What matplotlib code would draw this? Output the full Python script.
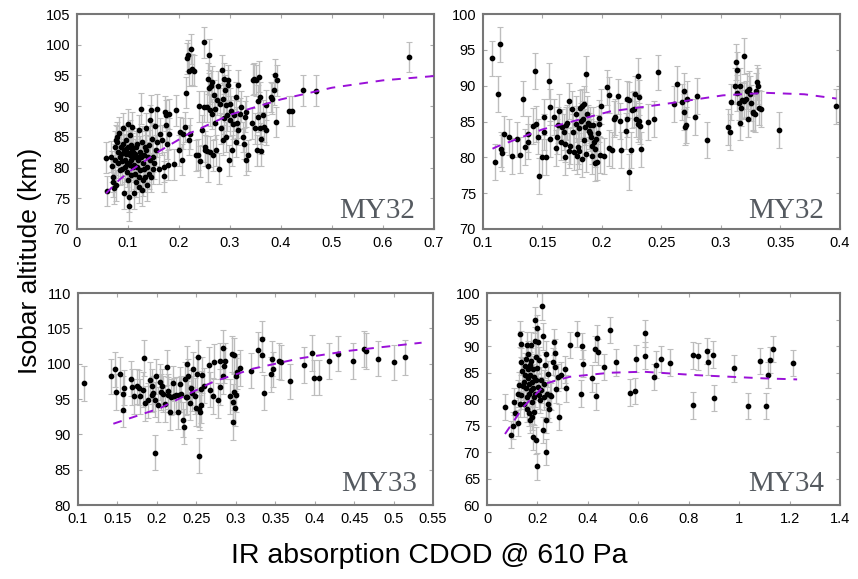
import matplotlib
matplotlib.use("Agg")
import matplotlib.pyplot as plt
from matplotlib.ticker import FuncFormatter, MultipleLocator

plt.rcParams['font.family'] = ['Liberation Sans', 'DejaVu Sans']

# ---------------- Panel 1 (MY32, left) ----------------
x1 = [0.0576,0.0595,0.066,0.069,0.0707,0.071,0.0726,0.0739,0.0752,0.077,0.0785,0.079,0.080,0.0824,0.0837,0.085,0.087,0.089,0.090,0.0916,
      0.092,0.0935,0.0955,0.0968,0.098,0.0994,0.100,0.1007,0.102,0.102,0.1034,0.1047,0.1053,0.1066,0.108,0.1086,0.1099,0.111,0.1125,0.1138,
      0.115,0.1164,0.1178,0.1197,0.121,0.1217,0.123,0.1243,0.1263,0.1276,0.128,0.1295,0.131,0.133,0.134,0.136,0.137,0.139,0.1407,0.1426,
      0.144,0.1459,0.148,0.149,0.150,0.152,0.153,0.154,0.156,0.157,0.161,0.1636,0.166,0.170,0.171,0.173,0.174,0.1753,0.177,0.1786,0.180,0.181,
      0.076,0.081,0.0857,0.0883,0.091,0.094,0.0962,0.0988,0.1014,0.104,0.106,0.109,0.112,0.1145,0.117,0.119,0.1223,0.1256,0.129,0.132,0.1348,0.138,0.141,0.1446,
      0.190,0.195,0.1995,0.2015,0.2054,0.208,0.211,0.213,0.2165,0.218,0.219,0.220,0.2224,0.2237,0.225,0.230,0.233,0.238,0.2394,0.2407,
      0.246,0.2486,0.2492,0.2505,0.252,0.254,0.255,0.2564,0.257,0.2584,0.259,0.260,0.2617,0.263,0.264,0.2656,0.267,0.269,0.270,0.2715,
      0.2735,0.2748,0.2767,0.279,0.2813,0.2833,0.2846,0.286,0.2872,0.288,0.289,0.2905,0.292,0.293,0.2944,0.2957,0.297,0.2983,0.2996,0.301,
      0.302,0.304,0.306,0.3088,0.3114,0.3127,0.314,0.3153,0.3166,0.320,0.3225,0.326,0.328,0.3297,0.331,0.3323,0.336,0.343,0.3454,0.3467,
      0.349,0.352,0.3526,0.354,0.3552,0.3565,0.358,0.359,0.3605,0.3618,0.365,0.3677,0.370,0.3716,0.3814,0.383,0.386,0.3886,0.391,0.3925,
      0.416,0.4213,0.4435,0.468,0.651]
y1 = [81.6,76.2,81.8,80.2,78.5,77.7,76.6,83.4,81.3,77.1,84.2,85.0,82.6,85.7,81.7,79.6,83.4,81.1,86.4,82.8,
      75.8,80.1,82.2,84.5,80.7,83.4,87.1,77.9,75.2,73.75,82.0,85.3,78.75,81.2,83.1,86.6,80.1,75.8,81.7,79.0,
      83.4,77.7,83.9,81.2,76.8,86.1,82.6,79.6,89.6,76.3,84.2,80.7,82.0,83.4,78.5,86.4,80.1,81.7,79.0,81.2,
      87.7,89.3,84.7,79.8,81.7,80.7,86.8,82.8,84.2,89.5,79.8,85.5,84.5,78.6,80.1,89.1,86.9,88.5,83.9,80.4,88.7,85.5,
      84.5,80.8,82.2,79.8,83.9,81.3,83.0,79.3,82.3,80.4,83.6,82.6,80.4,82.2,80.1,81.7,78.5,81.7,77.9,79.8,82.8,77.1,83.6,78.5,
      80.5,89.3,82.8,85.8,81.3,85.5,86.6,92.2,97.8,98.3,95.7,84.5,85.5,99.3,96.0,95.8,82.0,82.1,90.0,81.0,
      86.1,89.9,100.4,82.8,83.4,89.9,82.7,94.5,80.2,92.9,98.4,89.3,82.6,93.2,94.0,88.7,82.0,91.8,89.6,87.2,
      82.8,91.0,93.2,79.8,90.4,86.4,95.9,84.5,91.2,94.5,88.0,92.6,90.2,85.0,88.5,94.2,93.4,81.2,87.7,90.4,
      89.2,82.8,87.1,88.5,84.2,91.5,87.3,93.4,86.1,88.8,89.9,85.0,83.9,88.3,81.3,89.1,82.0,87.2,94.3,94.5,
      86.4,94.2,82.8,90.9,88.3,94.8,91.5,86.4,84.7,82.7,88.5,86.6,90.2,86.1,91.5,91.2,92.7,95.1,87.4,94.2,
      89.2,89.2,92.6,92.5,98.0]
err1 = 2.5
fit1_x = [0.057, 0.083, 0.107, 0.163, 0.219, 0.3, 0.4, 0.5, 0.6, 0.7]
fit1_y = [75.8, 78.0, 79.6, 82.75, 85.5, 88.6, 91.1, 93.0, 94.2, 94.9]

# ---------------- Panel 2 (MY32, right) ----------------
x2 = [0.1078,0.110,0.1123,0.114,0.1151,0.1162,0.1179,0.1218,0.1246,0.1285,0.1308,0.1336,0.135,0.1375,0.138,0.142,0.1434,0.1448,0.146,0.147,
      0.1493,0.151,0.1515,0.1526,0.1554,0.156,0.1565,0.1599,0.161,0.1621,0.163,0.1638,0.1655,0.1666,0.1677,0.1686,0.1691,0.17,0.171,0.1719,
      0.1725,0.1733,0.1745,0.1756,0.1767,0.1778,0.1784,0.179,0.1798,0.1803,0.181,0.1817,0.1823,0.1828,0.1834,0.184,0.1845,0.1851,0.1859,0.1865,
      0.1868,0.1873,0.1882,0.189,0.1896,0.1901,0.1907,0.1912,0.1918,0.1924,0.1929,0.1938,0.1943,0.1949,0.1957,0.1966,0.1971,0.1977,0.1985,0.1996,
      0.2019,0.2041,0.2061,0.2063,0.2083,0.2103,0.2108,0.2131,0.2153,0.2162,0.2203,0.2209,0.2212,0.2229,0.2231,0.2248,0.2254,0.2268,0.2276,0.2287,
      0.2299,0.2301,0.231,0.2315,0.2318,0.2329,0.2385,0.2439,0.2469,0.2606,0.2629,0.2671,0.269,0.269,0.2696,0.2707,0.2713,0.278,0.2802,0.2881,
      0.3063,0.308,0.3085,0.3116,0.3124,0.3133,0.3138,0.315,0.3158,0.3163,0.3169,0.3177,0.3191,0.3197,0.3208,0.3219,0.3228,0.3236,0.3247,0.3256,
      0.3267,0.3273,0.3284,0.3292,0.3301,0.3312,0.332,0.3334,0.3488,0.3967]
y2 = [93.8,79.3,88.8,95.75,81.1,80.6,83.3,82.8,80.2,82.5,80.3,88.2,81.4,83.2,82.2,84.4,92.1,84.6,82.9,77.45,
      80.1,83.55,85.6,80.0,90.7,87.0,82.6,85.6,81.3,82.9,84.5,86.4,82.15,84.3,83.5,80.0,81.8,84.5,84.85,87.9,
      80.95,81.6,86.7,83.5,80.8,84.6,86.1,80.2,81.5,80.9,84.1,86.9,85.1,79.8,87.1,85.3,82.4,87.4,84.25,91.65,
      80.4,86.0,84.8,83.7,83.4,84.5,82.85,81.6,80.15,84.5,82.15,81.1,79.2,82.6,79.4,83.4,84.6,85.5,80.3,87.1,
      80.15,89.75,81.35,88.7,81.0,85.4,85.65,88.5,85.1,81.0,83.7,85.4,88.1,78.0,88.0,81.0,86.6,86.7,88.9,85.3,
      91.4,84.7,85.1,88.35,84.4,81.1,84.9,85.4,91.85,87.4,90.2,87.75,89.2,86.35,84.25,84.5,88.1,85.65,88.6,82.4,
      84.25,83.5,87.75,89.9,93.25,89.0,92.2,87.65,84.85,90.0,86.9,88.0,94.1,87.85,88.1,89.3,85.3,89.6,88.9,87.55,
      86.35,86.2,86.0,89.2,90.45,90.0,86.95,86.7,83.8,87.1]
err2 = 2.5
fit2_x = [0.108, 0.1118, 0.15, 0.2067, 0.251, 0.3017, 0.338, 0.37, 0.397]
fit2_y = [81.2, 81.5, 83.9, 86.4, 87.4, 88.65, 89.0, 88.8, 88.2]

# ---------------- Panel 3 (MY33) ----------------
x3 = [0.1076,0.1419,0.1466,0.1483,0.1529,0.1567,0.1572,0.158,0.1677,0.1686,0.1711,0.1754,0.1775,0.1787,0.1826,0.1838,0.1843,0.189,0.1915,0.1932,
      0.1944,0.1953,0.1978,0.1982,0.1991,0.202,0.2041,0.2054,0.2063,0.2075,0.2097,0.2122,0.2135,0.2147,0.2168,0.2177,0.2198,0.2215,0.2236,0.227,
      0.2283,0.2296,0.2308,0.2325,0.2342,0.2355,0.2363,0.2376,0.2384,0.2397,0.2414,0.2427,0.244,0.246,0.2478,0.2495,0.2511,0.2524,0.2528,0.2533,
      0.2541,0.2554,0.2562,0.2567,0.2592,0.2664,0.2668,0.2706,0.2719,0.2774,0.2795,0.2804,0.2833,0.2837,0.2846,0.2867,0.2931,0.2947,0.2964,0.2969,
      0.2973,0.2981,0.2994,0.2998,0.3003,0.3019,0.3049,0.3189,0.3286,0.3333,0.3337,0.3362,0.3443,0.346,0.3472,0.3553,0.3578,0.3688,0.3862,0.3972,
      0.3989,0.4053,0.4184,0.429,0.448,0.462,0.4645,0.4802,0.5005,0.5145]
y3 = [97.2,98.2,99.2,96.0,98.5,93.5,95.7,96.6,97.9,96.7,95.4,96.8,96.6,95.4,96.3,100.8,94.4,94.8,97.7,96.8,
      95.6,95.8,87.4,94.9,98.2,94.2,97.4,96.0,96.8,95.7,94.3,99.5,96.1,95.6,93.1,95.3,97.2,95.45,95.6,93.2,
      95.6,97.1,95.7,92.1,91.1,97.8,95.3,100.0,95.35,98.2,94.5,96.6,95.8,99.2,95.45,93.75,98.5,100.9,93.6,87.0,
      93.1,96.4,94.1,98.4,96.9,99.8,96.3,95.45,100.3,94.8,100.4,96.7,102.2,98.2,99.7,100.4,95.4,101.35,91.7,94.6,
      96.0,101.2,93.7,95.6,98.3,98.85,99.4,99.0,102.0,103.5,101.3,95.9,98.5,100.7,99.2,100.4,100.2,97.5,99.8,101.5,
      98.0,98.0,100.4,101.4,100.4,102.1,101.8,100.7,100.2,100.9]
err3 = 2.5
fit3_x = [0.1448, 0.2039, 0.2715, 0.322, 0.3814, 0.4447, 0.5355]
fit3_y = [91.5, 93.7, 97.45, 99.3, 100.76, 101.84, 102.97]

# ---------------- Panel 4 (MY34) ----------------
x4 = [0.0727,0.0938,0.103,0.1057,0.1123,0.1215,0.1229,0.1255,0.1295,0.1321,0.1334,0.1347,0.136,0.1387,0.1413,0.1453,0.148,0.1493,0.1519,0.1546,
      0.1559,0.1572,0.1585,0.1598,0.1612,0.1625,0.1638,0.1651,0.1664,0.1678,0.1691,0.1704,0.1717,0.1731,0.1744,0.1757,0.177,0.1783,0.1797,0.181,
      0.1823,0.1836,0.1849,0.1863,0.1876,0.1889,0.1902,0.1915,0.1929,0.1942,0.1955,0.1968,0.1982,0.1995,0.2008,0.2021,0.2048,0.2074,0.21,0.2127,
      0.2153,0.218,0.2206,0.2219,0.2246,0.2272,0.2299,0.2325,0.2338,0.2351,0.2378,0.2404,0.2431,0.2444,0.2483,0.2536,0.2616,0.2668,0.2682,0.2708,
      0.2748,0.2801,0.284,0.2933,0.3078,0.3118,0.3276,0.3567,0.3738,0.3778,0.3791,0.4161,0.4293,0.432,0.4346,0.4399,0.4624,0.4888,0.5112,0.5654,
      0.5865,0.5892,0.6248,0.6275,0.6605,0.6684,0.6909,0.7266,0.8177,0.8177,0.8388,0.8706,0.8758,0.8956,0.8996,0.9789,1.0357,1.0845,1.1057,1.115,
      1.1242,1.1334,1.2153]
y4 = [78.5,73.3,75.0,79.5,77.4,81.0,75.5,82.6,79.1,92.3,87.05,90.4,80.7,85.3,82.4,83.25,79.1,84.5,86.2,82.0,
      87.5,90.1,78.2,80.3,83.9,85.6,88.5,82.9,77.4,81.0,86.4,76.1,84.5,90.1,81.7,87.2,79.5,76.6,83.25,72.8,
      82.0,85.6,80.4,77.6,84.2,91.0,81.0,94.9,88.0,72.2,83.6,67.3,85.8,93.4,90.8,82.3,80.7,87.4,79.8,83.6,
      81.7,97.5,91.8,74.2,82.9,80.4,86.4,70.0,76.0,88.5,81.0,84.7,79.0,78.2,80.7,80.5,87.05,90.8,88.75,86.0,
      81.8,84.1,76.6,84.5,85.6,82.0,90.2,92.3,81.0,90.0,86.7,83.9,89.4,80.5,91.5,88.9,86.0,93.0,86.9,81.2,
      81.5,87.6,88.2,92.4,84.2,86.5,87.55,86.85,78.8,88.25,88.05,89.05,87.0,88.4,80.2,85.8,78.7,87.2,78.7,84.5,
      87.4,89.4,86.8]
err4 = 2.5
fit4_x = [0.0714, 0.144, 0.237, 0.329, 0.488, 0.62, 0.832, 1.097, 1.23]
fit4_y = [73.4, 78.5, 83.0, 84.2, 84.96, 85.15, 84.5, 83.9, 83.7]

panels = [
    dict(x=x1, y=y1, e=err1, fx=fit1_x, fy=fit1_y, xlim=(0, 0.7), xstep=0.1, ylim=(70, 105), ystep=5,
         label='MY32', pos=[0.0897, 0.6045, 0.4161, 0.3713], lab_xy=(0.947, 0.051)),
    dict(x=x2, y=y2, e=err2, fx=fit2_x, fy=fit2_y, xlim=(0.1, 0.4), xstep=0.05, ylim=(70, 100), ystep=5,
         label='MY32', pos=[0.5629, 0.6045, 0.4161, 0.3713], lab_xy=(0.955, 0.051)),
    dict(x=x3, y=y3, e=err3, fx=fit3_x, fy=fit3_y, xlim=(0.1, 0.55), xstep=0.05, ylim=(80, 110), ystep=5,
         label='MY33', pos=[0.0909, 0.1278, 0.4138, 0.3661], lab_xy=(0.955, 0.066)),
    dict(x=x4, y=y4, e=err4, fx=fit4_x, fy=fit4_y, xlim=(0, 1.4), xstep=0.2, ylim=(60, 100), ystep=5,
         label='MY34', pos=[0.5676, 0.1278, 0.4114, 0.3661], lab_xy=(0.955, 0.066)),
]

fig = plt.figure(figsize=(8.58, 5.79), dpi=100)
fmt = FuncFormatter(lambda v, p: ('%.2f' % v).rstrip('0').rstrip('.') if abs(v) > 1e-9 else '0')

for p in panels:
    ax = fig.add_axes(p['pos'])
    eb = ax.errorbar(p['x'], p['y'], yerr=p['e'], fmt='none', ecolor='#bdbdbd', elinewidth=1.0,
                     capsize=2, capthick=0.8, zorder=2)
    for cl in eb[1]:
        cl.set_color('#888888')
    ax.plot(p['x'], p['y'], 'o', color='black', markersize=3.1, zorder=3)
    ax.plot(p['fx'], p['fy'], color='#9a10d8', lw=1.4, linestyle=(0, (4.5, 4)), zorder=4)
    ax.set_xlim(*p['xlim'])
    ax.set_ylim(*p['ylim'])
    ax.xaxis.set_major_locator(MultipleLocator(p['xstep']))
    ax.yaxis.set_major_locator(MultipleLocator(p['ystep']))
    ax.xaxis.set_major_formatter(fmt)
    ax.yaxis.set_major_formatter(fmt)
    ax.tick_params(direction='in', length=3, width=0.8, color='#aaaaaa', labelsize=10.5,
                   top=True, right=True, pad=5)
    for s in ax.spines.values():
        s.set_color('#777777')
        s.set_linewidth(1.5)
    ax.text(p['lab_xy'][0], p['lab_xy'][1], p['label'], transform=ax.transAxes, ha='right',
            va='baseline', fontsize=21, color='#555a60', family='Liberation Serif')

fig.text(0.035, 0.55, 'Isobar altitude (km)', rotation=90, ha='center', va='center', fontsize=19)
fig.text(0.5, 0.04, 'IR absorption CDOD @ 610 Pa', ha='center', va='center', fontsize=20.5)

fig.savefig('out.png', dpi=100)
